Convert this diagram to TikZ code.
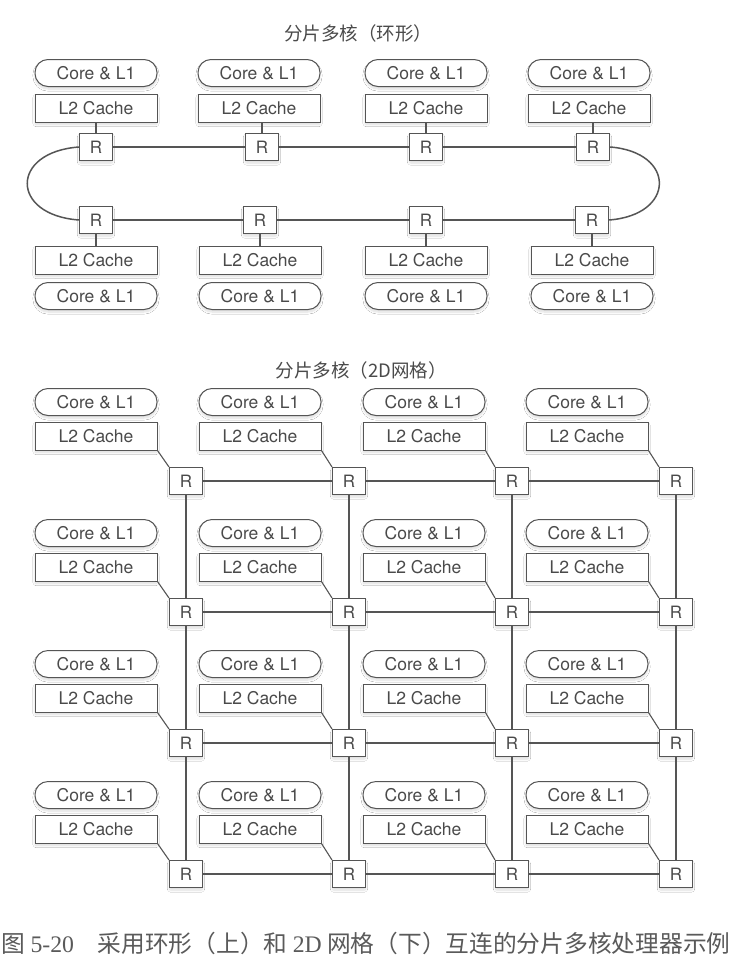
\documentclass[tikz,border=0pt]{standalone}
\usepackage{fontspec}
\setmainfont{TeX Gyre Heros}
\newfontfamily\cjk{Noto Sans CJK SC}
\newfontfamily\capserif{Liberation Serif}
\usetikzlibrary{shadows.blur}
\definecolor{ink}{HTML}{555555}
\definecolor{txt}{HTML}{4A4A4A}
\definecolor{captxt}{HTML}{5A5A5A}
\tikzset{
  base/.style={draw=ink, line width=1pt, fill=white, text=txt, inner sep=0pt,
    font=\fontsize{17.5}{19}\selectfont,
    blur shadow={shadow blur steps=8, shadow xshift=0pt, shadow yshift=-2.5pt, shadow blur extra rounding=1pt, shadow opacity=14}},
  pill/.style={base, minimum width=122pt, minimum height=27pt, rounded corners=13pt},
  ltwo/.style={base, minimum width=122pt, minimum height=28pt},
  rbox/.style={base, minimum width=33pt, minimum height=27pt, font=\fontsize{17}{18}\selectfont},
  link/.style={draw=ink, line width=1.5pt},
  stub/.style={draw=ink, line width=1.1pt},
  ttl/.style={text=txt, font=\cjk\fontsize{18.5}{20}\selectfont},
}
\begin{document}
\begin{tikzpicture}[x=1pt, y=-1pt]
\useasboundingbox (0,0) rectangle (739,961);
\fill[white] (0,0) rectangle (739,961);

% ---------------- Ring ----------------
\node[ttl] (t1) at (358,33) {分片多核（环形）};

% top row
\foreach \i/\xl/\xr in {1/96/96, 2/259/262, 3/426/426, 4/589/593} {
  \node[pill] (rtp\i) at (\xl,73) {Core \& L1};
  \node[ltwo] (rtl\i) at (\xl,108) {L2 Cache};
  \node[rbox] (rtr\i) at (\xr,147) {R};
  \draw[stub] (rtr\i.north) -- (rtr\i.north |- rtl\i.south);
}
% bottom row
\foreach \i/\xl/\xr in {1/96/96, 2/260/260, 3/426/426, 4/592/592} {
  \node[rbox] (rbr\i) at (\xr,220) {R};
  \node[ltwo] (rbl\i) at (\xl,260) {L2 Cache};
  \node[pill] (rbp\i) at (\xl,296) {Core \& L1};
  \draw[stub] (rbr\i.south) -- (rbr\i.south |- rbl\i.north);
}
\draw[link] (rtr1) -- (rtr2) -- (rtr3) -- (rtr4);
\draw[link] (rbr1) -- (rbr2) -- (rbr3) -- (rbr4);
\draw[link] (rtr1.west) .. controls (10,152) and (10,215) .. (rbr1.west);
\draw[link] (rtr4.east) .. controls (676,152) and (676,215) .. (rbr4.east);

% ---------------- Mesh ----------------
\node[ttl] (t2) at (361,370) {分片多核（2D网格）};

\foreach \r in {0,1,2,3} {
  \foreach \c/\xl/\xr in {1/96/186, 2/260/349, 3/424/512, 4/587/676} {
    \pgfmathsetmacro{\yp}{402+131*\r}
    \pgfmathsetmacro{\yl}{436+131*\r}
    \pgfmathsetmacro{\yr}{481+131*\r}
    \node[pill] (mp\r\c) at (\xl,\yp) {Core \& L1};
    \node[ltwo] (ml\r\c) at (\xl,\yl) {L2 Cache};
    \node[rbox] (mr\r\c) at (\xr,\yr) {R};
    \draw[stub] (ml\r\c.south east) -- (mr\r\c.north west);
  }
}
\foreach \r in {0,1,2,3} {
  \draw[link] (mr\r1) -- (mr\r2) -- (mr\r3) -- (mr\r4);
}
\foreach \c in {1,2,3,4} {
  \draw[link] (mr0\c) -- (mr1\c) -- (mr2\c) -- (mr3\c);
}

% ---------------- Caption ----------------
\node[text=captxt, inner sep=0pt] (cap) at (366,943) {\resizebox{729pt}{!}{\cjk\fontsize{22}{24}\selectfont 图~{\capserif 5-20}\quad 采用环形（上）和~{\capserif 2D}~网格（下）互连的分片多核处理器示例}};
\end{tikzpicture}
\end{document}
